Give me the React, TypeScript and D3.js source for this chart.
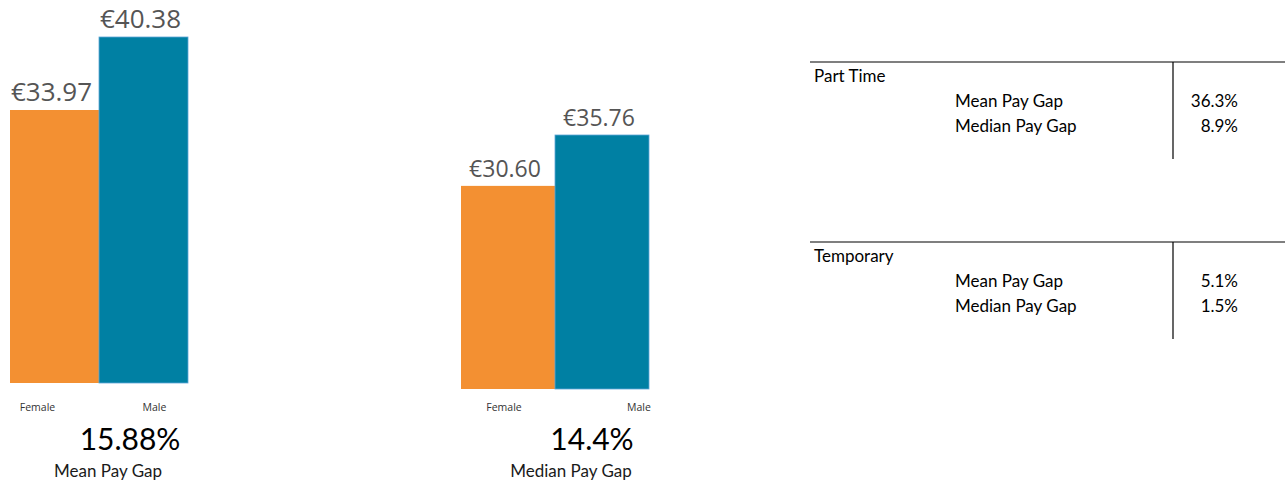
import React from "react";
import * as d3 from "d3";

const categories = ["Female", "Male"];
const meanRates = [33.97, 40.38];
const medianRates = [30.6, 35.76];
const headlineGaps = ["15.88%", "14.4%"];
const headlineTitles = ["Mean Pay Gap", "Median Pay Gap"];
const groupNames = ["Part Time", "Temporary"];
const measureNames = ["Mean Pay Gap", "Median Pay Gap"];
const partTimeGaps = ["36.3%", "8.9%"];
const temporaryGaps = ["5.1%", "1.5%"];
const AXIS_MIN = 10;

const COLORS = ["#F39032", "#0080A3"];
const SEGOE = "'Open Sans', 'Noto Sans', sans-serif";
const CALIBRI = "Lato, 'Liberation Sans', sans-serif";
const CAT_BASELINE = 411;

const panels = [
  { values: meanRates, gap: headlineGaps[0], title: headlineTitles[0], x0: 10, x1: 188, bottom: 383, top: 37, valueSize: 26, catDx: [-17, 11], gapX: 130, titleX: 108 },
  { values: medianRates, gap: headlineGaps[1], title: headlineTitles[1], x0: 461, x1: 649, bottom: 389, top: 135, valueSize: 23, catDx: [-4, 37], gapX: 592, titleX: 571 },
];

const tables = [
  { name: groupNames[0], values: partTimeGaps, top: 62 },
  { name: groupNames[1], values: temporaryGaps, top: 242 },
];

function BarPanel({ p }: { p: (typeof panels)[number] }) {
  const x = d3.scaleBand<string>().domain(categories).range([p.x0, p.x1]).padding(0);
  const y = d3.scaleLinear().domain([AXIS_MIN, d3.max(p.values) as number]).range([p.bottom, p.top]);
  return (
    <g>
      {categories.map((c, i) => {
        const bx = x(c) as number;
        const by = y(p.values[i]);
        return (
          <g key={c}>
            <rect
              x={bx}
              y={by}
              width={x.bandwidth()}
              height={y(AXIS_MIN) - by}
              fill={COLORS[i]}
              stroke={i === 1 ? "#5FA6D6" : "none"}
              strokeWidth={i === 1 ? 0.8 : 0}
            />
            <text
              x={bx + x.bandwidth() / 2 - 3}
              y={by - 9}
              textAnchor="middle"
              fontFamily={SEGOE}
              fontSize={p.valueSize}
              fill="#555555"
            >
              {"€" + p.values[i].toFixed(2)}
            </text>
            <text
              x={bx + x.bandwidth() / 2 + p.catDx[i]}
              y={CAT_BASELINE}
              textAnchor="middle"
              fontFamily={SEGOE}
              fontSize={10.5}
              fill="#333333"
            >
              {c}
            </text>
          </g>
        );
      })}
      <text x={p.gapX} y={450} textAnchor="middle" fontFamily={CALIBRI} fontSize={30} fill="#000">
        {p.gap}
      </text>
      <text x={p.titleX} y={477} textAnchor="middle" fontFamily={CALIBRI} fontSize={17} fill="#1a1a1a">
        {p.title}
      </text>
    </g>
  );
}

function GapTable({ t }: { t: (typeof tables)[number] }) {
  const rowY = d3.scalePoint<string>().domain(measureNames).range([t.top + 45, t.top + 70]);
  return (
    <g fontFamily={CALIBRI} fontSize={17} fill="#000">
      <line x1={810} x2={1285} y1={t.top} y2={t.top} stroke="#000" strokeWidth={1.2} />
      <line x1={1173} x2={1173} y1={t.top} y2={t.top + 97} stroke="#000" strokeWidth={1.2} />
      <text x={814} y={t.top + 20}>{t.name}</text>
      {measureNames.map((m, i) => (
        <g key={m}>
          <text x={955} y={rowY(m)}>{m}</text>
          <text x={1238} y={rowY(m)} textAnchor="end">{t.values[i]}</text>
        </g>
      ))}
    </g>
  );
}

export default function App() {
  return (
    <svg
      width={1288}
      height={484}
      style={{ position: "absolute", left: 0, top: 0, background: "#fff" }}
    >
      {panels.map((p, i) => (
        <BarPanel key={i} p={p} />
      ))}
      {tables.map((t, i) => (
        <GapTable key={i} t={t} />
      ))}
    </svg>
  );
}
